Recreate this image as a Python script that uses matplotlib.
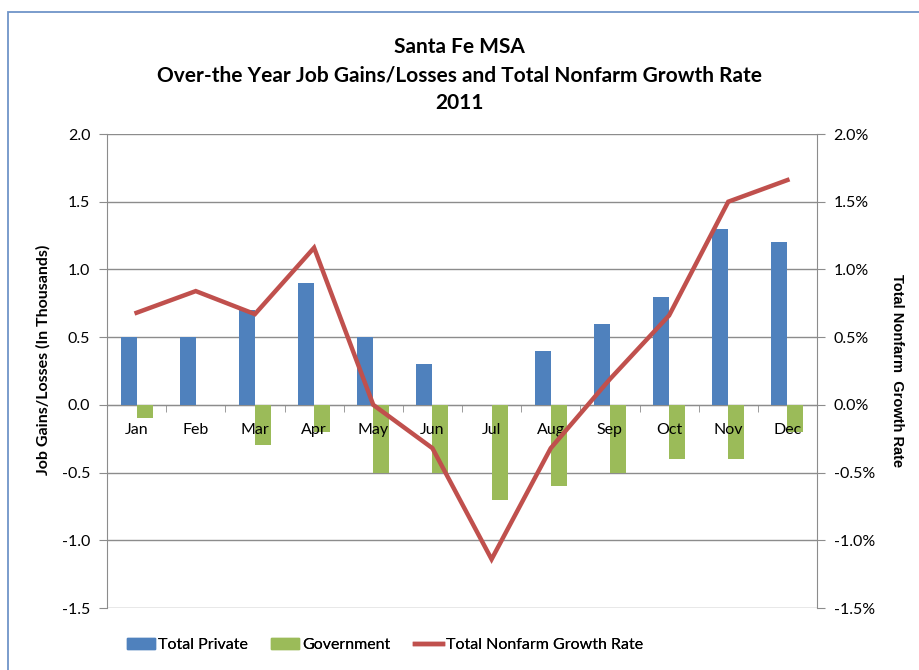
import matplotlib
matplotlib.use("Agg")
import matplotlib.pyplot as plt
import numpy as np
from matplotlib.patches import Rectangle
from matplotlib.lines import Line2D
from matplotlib.ticker import FuncFormatter, MultipleLocator
from matplotlib.transforms import blended_transform_factory, offset_copy

months = ["Jan", "Feb", "Mar", "Apr", "May", "Jun", "Jul", "Aug", "Sep", "Oct", "Nov", "Dec"]
total_private = [0.5, 0.5, 0.7, 0.9, 0.5, 0.3, 0.0, 0.4, 0.6, 0.8, 1.3, 1.2]
government = [-0.1, 0.0, -0.3, -0.2, -0.5, -0.5, -0.7, -0.6, -0.5, -0.4, -0.4, -0.2]
growth_rate = [0.68, 0.84, 0.67, 1.16, 0.0, -0.32, -1.14, -0.32, 0.19, 0.66, 1.50, 1.66]  # percent

FONT = ["Lato", "DejaVu Sans"]
plt.rcParams['font.family'] = FONT

BLUE = "#4F81BD"
GREEN = "#9BBB59"
RED = "#C0504D"
GRID = "#8C8C8C"

W, H = 919, 670
fig = plt.figure(figsize=(W / 100, H / 100), dpi=100)

# figure border
fig.patches.append(Rectangle((8 / W, -0.05), 2.0, (H - 12) / H + 0.05, transform=fig.transFigure,
                             fill=False, edgecolor="#6F94C8", linewidth=1.3))

left, right, top, bottom = 107, 817, 134, 608
ax = fig.add_axes([left / W, 1 - bottom / H, (right - left) / W, (bottom - top) / H])
ax2 = ax.twinx()

x = np.arange(len(months))
bw = 0.27
ax.bar(x - bw / 2, total_private, width=bw, color=BLUE, zorder=3, label="Total Private")
ax.bar(x + bw / 2, government, width=bw, color=GREEN, zorder=3, label="Government")

ax.set_xlim(-0.5, len(months) - 0.5)
ax.set_ylim(-1.5, 2.0)
ax.yaxis.set_major_locator(MultipleLocator(0.5))
ax.yaxis.set_major_formatter(FuncFormatter(lambda v, p: f"{v:.1f}"))
ax.grid(axis="y", color=GRID, linewidth=1.0, zorder=0)
ax.set_axisbelow(True)

# x-axis at zero
ax.spines["bottom"].set_position(("data", 0))
ax.spines["bottom"].set_color(GRID)
ax.spines["top"].set_visible(False)
ax.spines["right"].set_visible(False)
ax.spines["left"].set_color(GRID)
ax.set_xticks(x)
ax.set_xticklabels([])
ax.set_xticks(np.arange(-0.5, len(months) + 0.5, 1.0), minor=True)
ax.tick_params(axis="x", which="major", length=0)
ax.tick_params(axis="x", which="minor", length=5, color=GRID, direction="out")
ax.tick_params(axis="y", length=6, color=GRID, labelsize=11.5, pad=6)

# month labels drawn above the bars, just below the zero line
trans = offset_copy(ax.transData, fig=fig, x=0, y=-25, units="dots")
for xi, m in zip(x, months):
    ax.text(xi, 0, m, transform=trans, ha="center", va="center", fontsize=11.5, zorder=10)

ax2.plot(x, growth_rate, color=RED, linewidth=3.2, zorder=4, solid_joinstyle="miter")
ax2.set_ylim(-1.5, 2.0)
ax2.yaxis.set_major_locator(MultipleLocator(0.5))
ax2.yaxis.set_major_formatter(FuncFormatter(lambda v, p: f"{v:.1f}%"))
for s in ["top", "bottom", "left"]:
    ax2.spines[s].set_visible(False)
ax2.spines["right"].set_color(GRID)
ax2.tick_params(axis="y", length=6, color=GRID, labelsize=11.5, pad=6)

# titles
tkw = dict(ha="center", va="center", fontsize=15, fontweight="bold")
fig.text(0.5, 1 - 47 / H, "Santa Fe MSA", **tkw)
fig.text(0.5, 1 - 76 / H, "Over-the Year Job Gains/Losses and Total Nonfarm Growth Rate", **tkw)
fig.text(0.5, 1 - 103 / H, "2011", **tkw)

fig.text(43 / W, 1 - 360 / H, "Job Gains/Losses (In Thousands)", rotation=90, ha="center", va="center",
         fontsize=11.5, fontweight="bold")
fig.text(897 / W, 1 - 371 / H, "Total Nonfarm  Growth Rate", rotation=270, ha="center", va="center",
         fontsize=10.5, fontweight="bold", family=["Liberation Sans", "DejaVu Sans"])

# legend: three single-entry legends at measured positions
entries = [
    (Rectangle((0, 0), 1, 1, color=BLUE), "Total Private", 127),
    (Rectangle((0, 0), 1, 1, color=GREEN), "Government", 271),
    (Line2D([0], [0], color=RED, linewidth=3.2), "Total Nonfarm Growth Rate", 415),
]
for h, lab, xpx in entries:
    leg = fig.legend([h], [lab], loc="center left", bbox_to_anchor=(xpx / W, 1 - 645 / H),
                     frameon=False, fontsize=11.5, handlelength=1.75, handletextpad=0.2,
                     borderpad=0, borderaxespad=0)
    fig.add_artist(leg)

fig.savefig("out.png", dpi=100)
